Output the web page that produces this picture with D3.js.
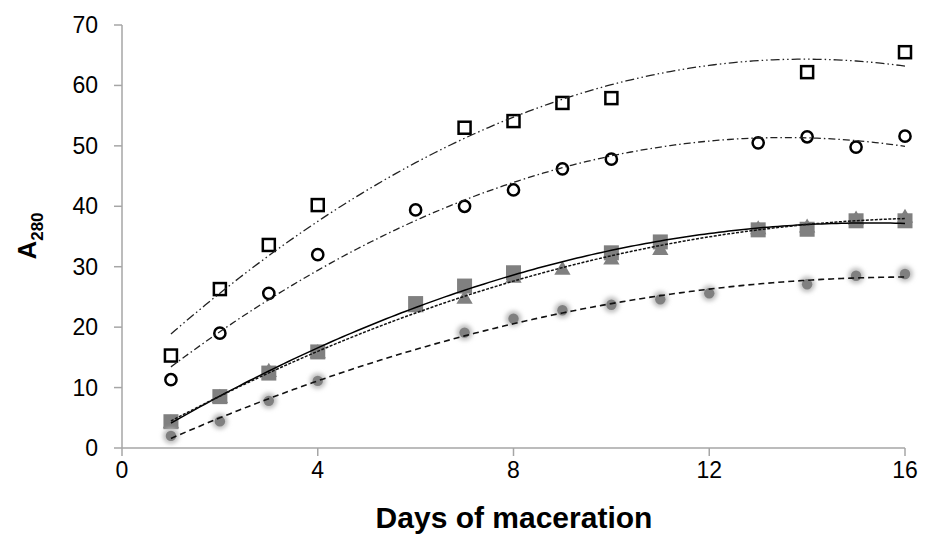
<!DOCTYPE html>
<html>
<head>
<meta charset="utf-8">
<script src="https://cdn.jsdelivr.net/npm/d3@7"></script>
<style>
  body { margin: 0; background: #fff; }
  svg { display: block; font-family: "Liberation Sans", Arial, sans-serif; }
</style>
</head>
<body>
<svg id="chart" width="927" height="538"></svg>
<script>
"use strict";

// tick labels
var xTicks = [0, 4, 8, 12, 16];
var yTicks = [0, 10, 20, 30, 40, 50, 60, 70];

// open squares
var sqOpenDays = [1, 2, 3, 4, 7, 8, 9, 10, 14, 16];
var sqOpenVals = [15.3, 26.3, 33.6, 40.2, 53.0, 54.1, 57.1, 57.9, 62.2, 65.5];

// open circles
var ciOpenDays = [1, 2, 3, 4, 6, 7, 8, 9, 10, 13, 14, 15, 16];
var ciOpenVals = [11.3, 19.0, 25.6, 32.0, 39.4, 40.0, 42.7, 46.2, 47.8, 50.5, 51.5, 49.8, 51.6];

// grey triangles
var triDays = [1, 2, 3, 4, 6, 7, 8, 9, 10, 11, 13, 14, 15, 16];
var triVals = [4.2, 8.4, 12.7, 15.8, 23.4, 24.8, 28.3, 29.6, 31.3, 32.9, 36.3, 36.6, 37.9, 38.2];

// grey squares
var sqGreyDays = [1, 2, 3, 4, 6, 7, 8, 10, 11, 13, 14, 15, 16];
var sqGreyVals = [4.35, 8.5, 12.4, 15.9, 23.9, 26.8, 29.0, 32.3, 34.1, 36.1, 36.2, 37.6, 37.6];

// grey circles
var ciGreyDays = [1, 2, 3, 4, 7, 8, 9, 10, 11, 12, 14, 15, 16];
var ciGreyVals = [2.0, 4.4, 7.8, 11.1, 19.1, 21.4, 22.8, 23.7, 24.6, 25.6, 27.1, 28.5, 28.8];

var svg = d3.select("#chart");
var x = d3.scaleLinear().domain([0, 16]).range([122, 905]);
var y = d3.scaleLinear().domain([0, 70]).range([448, 25]);
var axisColor = "#a6a6a6";

// second order least squares, like a spreadsheet polynomial trendline
function polyFit2(xs, ys) {
    var s = [0, 0, 0, 0, 0], t = [0, 0, 0];
    xs.forEach(function (xv, i) {
        for (var k = 0; k < 5; k++) s[k] += Math.pow(xv, k);
        for (var j = 0; j < 3; j++) t[j] += ys[i] * Math.pow(xv, j);
    });
    var m = [[s[0], s[1], s[2], t[0]], [s[1], s[2], s[3], t[1]], [s[2], s[3], s[4], t[2]]];
    for (var c = 0; c < 3; c++) {
        for (var r = c + 1; r < 3; r++) {
            var f = m[r][c] / m[c][c];
            for (var q = c; q < 4; q++) m[r][q] -= f * m[c][q];
        }
    }
    var b = [0, 0, 0];
    for (var i = 2; i >= 0; i--) {
        var v = m[i][3];
        for (var j2 = i + 1; j2 < 3; j2++) v -= m[i][j2] * b[j2];
        b[i] = v / m[i][i];
    }
    return function (xv) { return b[0] + b[1] * xv + b[2] * xv * xv; };
}

var defs = svg.append("defs");
defs.append("filter").attr("id", "glow")
    .attr("x", "-100%").attr("y", "-100%").attr("width", "300%").attr("height", "300%")
    .append("feGaussianBlur").attr("stdDeviation", 2);

// axes
svg.append("line").attr("x1", x(0)).attr("x2", x(16)).attr("y1", y(0)).attr("y2", y(0))
    .attr("stroke", axisColor).attr("stroke-width", 1.5);
svg.append("line").attr("x1", x(0)).attr("x2", x(0)).attr("y1", y(0)).attr("y2", y(70))
    .attr("stroke", axisColor).attr("stroke-width", 1.5);

svg.selectAll(".ytick").data(yTicks).enter().append("line")
    .attr("x1", x(0) - 8).attr("x2", x(0))
    .attr("y1", function (d) { return y(d); }).attr("y2", function (d) { return y(d); })
    .attr("stroke", axisColor).attr("stroke-width", 1.5);
svg.selectAll(".ylab").data(yTicks).enter().append("text")
    .attr("x", 98).attr("y", function (d) { return y(d) + 8; })
    .attr("text-anchor", "end").attr("font-size", 23).attr("fill", "#000")
    .text(function (d) { return d; });

svg.selectAll(".xtick").data(xTicks).enter().append("line")
    .attr("x1", function (d) { return x(d); }).attr("x2", function (d) { return x(d); })
    .attr("y1", y(0)).attr("y2", y(0) + 8)
    .attr("stroke", axisColor).attr("stroke-width", 1.5);
svg.selectAll(".xlab").data(xTicks).enter().append("text")
    .attr("x", function (d) { return x(d); }).attr("y", 478)
    .attr("text-anchor", "middle").attr("font-size", 23).attr("fill", "#000")
    .text(function (d) { return d; });

svg.append("text").attr("x", 514).attr("y", 528)
    .attr("text-anchor", "middle").attr("font-size", 30).attr("font-weight", "bold")
    .text("Days of maceration");

var yt = svg.append("text").attr("transform", "translate(36,236) rotate(-90)")
    .attr("text-anchor", "middle").attr("font-size", 26).attr("font-weight", "bold");
yt.append("tspan").text("A");
yt.append("tspan").attr("font-size", 17).attr("dy", 7).text("280");

// markers
function pts(days, vals) {
    return days.map(function (d, i) { return { d: d, v: vals[i] }; });
}

var g = svg.append("g");

g.selectAll(".tri").data(pts(triDays, triVals)).enter().append("path")
    .attr("d", d3.symbol().type(d3.symbolTriangle).size(115))
    .attr("transform", function (p) { return "translate(" + x(p.d) + "," + (y(p.v) + 1) + ")"; })
    .attr("fill", "#808080");

g.selectAll(".sqg").data(pts(sqGreyDays, sqGreyVals)).enter().append("rect")
    .attr("x", function (p) { return x(p.d) - 7.5; }).attr("y", function (p) { return y(p.v) - 7.5; })
    .attr("width", 15).attr("height", 15).attr("fill", "#808080");

var cg = g.selectAll(".cig").data(pts(ciGreyDays, ciGreyVals)).enter().append("g")
    .attr("transform", function (p) { return "translate(" + x(p.d) + "," + y(p.v) + ")"; });
cg.append("circle").attr("r", 8).attr("fill", "#c0c0c0").attr("filter", "url(#glow)");
cg.append("circle").attr("r", 5.2).attr("fill", "#808080");

g.selectAll(".sqo").data(pts(sqOpenDays, sqOpenVals)).enter().append("rect")
    .attr("x", function (p) { return x(p.d) - 6; }).attr("y", function (p) { return y(p.v) - 6; })
    .attr("width", 12).attr("height", 12)
    .attr("fill", "none").attr("stroke", "#000").attr("stroke-width", 2.5);

g.selectAll(".cio").data(pts(ciOpenDays, ciOpenVals)).enter().append("circle")
    .attr("cx", function (p) { return x(p.d); }).attr("cy", function (p) { return y(p.v); })
    .attr("r", 5.6).attr("fill", "none").attr("stroke", "#000").attr("stroke-width", 2.5);

// trendlines
var trends = [
    { days: sqOpenDays, vals: sqOpenVals, dash: "9 3 1.5 3 1.5 3", color: "#222", w: 1.3 },
    { days: ciOpenDays, vals: ciOpenVals, dash: "7 3 1.5 3", color: "#222", w: 1.3 },
    { days: sqGreyDays, vals: sqGreyVals, dash: null, color: "#000", w: 1.5 },
    { days: triDays, vals: triVals, dash: "3 1.5", color: "#111", w: 1.5 },
    { days: ciGreyDays, vals: ciGreyVals, dash: "6 4", color: "#111", w: 1.6 }
];
var steps = d3.range(1, 16.001, 0.1);
var line = d3.line().x(function (p) { return x(p[0]); }).y(function (p) { return y(p[1]); });

trends.forEach(function (t) {
    var fit = polyFit2(t.days, t.vals);
    svg.append("path")
        .attr("d", line(steps.map(function (s) { return [s, fit(s)]; })))
        .attr("fill", "none").attr("stroke", t.color).attr("stroke-width", t.w)
        .attr("stroke-dasharray", t.dash);
});
</script>
</body>
</html>
